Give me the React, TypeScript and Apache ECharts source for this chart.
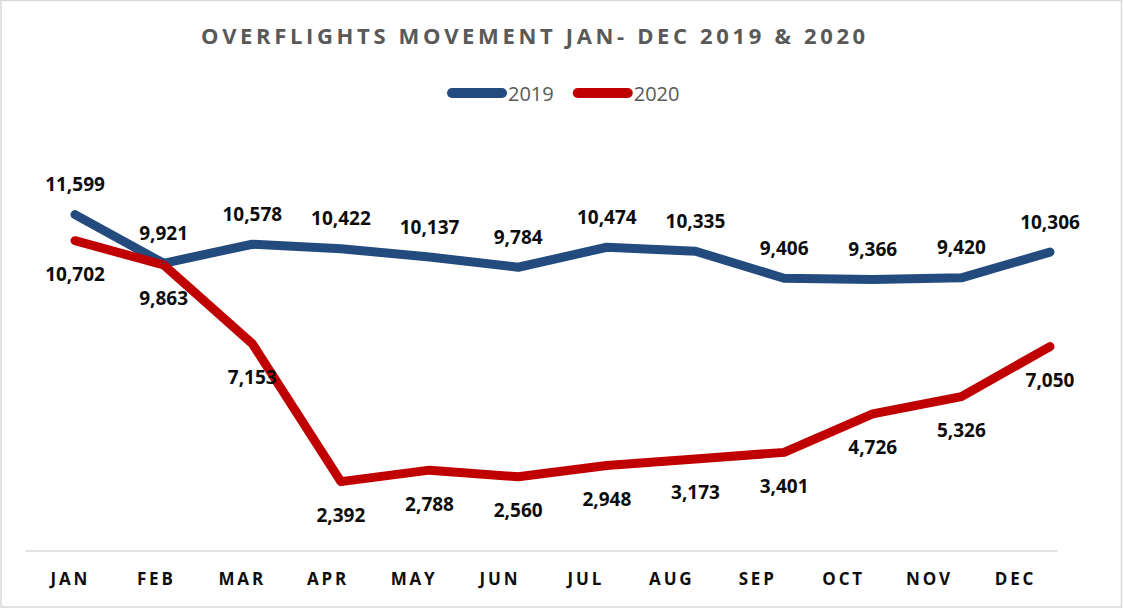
import React, { useEffect, useRef } from 'react';
import * as echarts from 'echarts';

const months = ['JAN', 'FEB', 'MAR', 'APR', 'MAY', 'JUN', 'JUL', 'AUG', 'SEP', 'OCT', 'NOV', 'DEC'];
const values2019 = [11599, 9921, 10578, 10422, 10137, 9784, 10474, 10335, 9406, 9366, 9420, 10306];
const values2020 = [10702, 9863, 7153, 2392, 2788, 2560, 2948, 3173, 3401, 4726, 5326, 7050];
const seriesNames = ['2019', '2020'];
const titleText = 'OVERFLIGHTS MOVEMENT JAN- DEC 2019 & 2020';

const spaced = (s: string, sep: string) => s.split('').join(sep);
const fmt = (v: number) => Number(v).toLocaleString('en-US');

export default function App() {
  const ref = useRef<HTMLDivElement>(null);
  useEffect(() => {
    if (!ref.current) return;
    const chart = echarts.init(ref.current, undefined, { renderer: 'svg' });
    const labelStyle = {
      show: true,
      fontFamily: 'Open Sans',
      fontWeight: 'bold',
      fontSize: 19,
      color: '#0d0d0d',
      formatter: (p: any) => fmt(p.value),
    };
    chart.setOption({
      animation: false,
      backgroundColor: '#ffffff',
      title: {
        text: spaced(titleText, '\u2009'),
        left: 201,
        top: 24,
        padding: 0,
        textStyle: {
          fontFamily: 'Open Sans',
          fontWeight: 'bold',
          fontSize: 22,
          color: '#595959',
        },
      },
      legend: {
        left: 447,
        top: 83,
        padding: 0,
        itemWidth: 60,
        itemHeight: 10,
        itemGap: 19,
        icon: 'path://M5,0 H55 A5,5 0 0 1 55,10 H5 A5,5 0 0 1 5,0 Z',
        data: seriesNames,
        textStyle: {
          fontFamily: 'Open Sans',
          fontSize: 20,
          color: '#595959',
          padding: [0, 0, 0, -4],
        },
      },
      graphic: [
        {
          type: 'rect',
          silent: true,
          shape: { x: 1, y: 0.5, width: 1120.5, height: 606.5 },
          style: { fill: 'none', stroke: '#d9d9d9', lineWidth: 1.5 },
        },
      ],
      grid: [
        { left: 75, right: 73, top: 145, bottom: 58 },
        { left: 26, right: 66, top: 145, bottom: 58 },
      ],
      xAxis: [
        {
          gridIndex: 0,
          type: 'category',
          boundaryGap: false,
          data: months,
          show: false,
        },
        {
          gridIndex: 1,
          type: 'category',
          boundaryGap: true,
          data: months,
          axisLine: { show: true, lineStyle: { color: '#d9d9d9', width: 1.5 } },
          axisTick: { show: false },
          axisLabel: {
            margin: 19,
            fontFamily: 'Open Sans',
            fontWeight: 'bold',
            fontSize: 17,
            color: '#0d0d0d',
            formatter: (v: string) => spaced(v, '\u2009'),
          },
        },
      ],
      yAxis: [
        { gridIndex: 0, type: 'value', min: 0, max: 14000, show: false },
        { gridIndex: 1, type: 'value', min: 0, max: 14000, show: false },
      ],
      series: [
        {
          name: seriesNames[0],
          type: 'line',
          xAxisIndex: 0,
          yAxisIndex: 0,
          data: values2019,
          symbol: 'circle',
          symbolSize: 2,
          showSymbol: true,
          itemStyle: { color: '#234B7E' },
          lineStyle: { color: '#234B7E', width: 9, cap: 'round', join: 'round' },
          label: { ...labelStyle, position: 'top', distance: 20 },
        },
        {
          name: seriesNames[1],
          type: 'line',
          xAxisIndex: 0,
          yAxisIndex: 0,
          data: values2020,
          symbol: 'circle',
          symbolSize: 2,
          showSymbol: true,
          itemStyle: { color: '#C00000' },
          lineStyle: { color: '#C00000', width: 9, cap: 'round', join: 'round' },
          label: { ...labelStyle, position: 'bottom', distance: 23 },
        },
      ],
    });
    return () => chart.dispose();
  }, []);
  return (
    <div
      ref={ref}
      style={{ position: 'absolute', left: 0, top: 0, width: 1123, height: 609 }}
    />
  );
}
